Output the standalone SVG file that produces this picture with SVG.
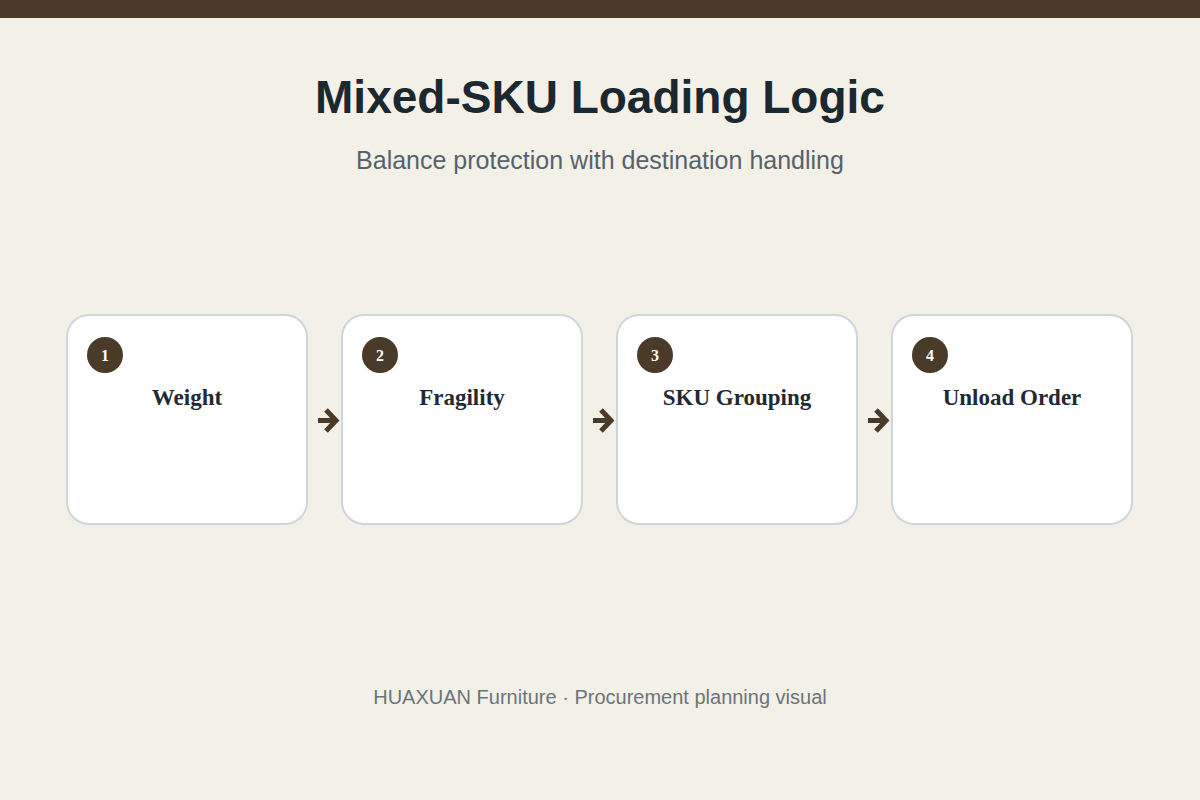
<svg xmlns="http://www.w3.org/2000/svg" width="1200" height="800" viewBox="0 0 1200 800">
<style>
.box{fill:#ffffff;stroke:#cdd6db;stroke-width:2}
.badge{fill:#4a3a28}
.num{font-family:"Liberation Serif",serif;font-weight:bold;font-size:16px;fill:#ffffff;text-anchor:middle}
.lbl{font-family:"Liberation Serif",serif;font-weight:bold;font-size:23px;fill:#1f2a33;text-anchor:middle}
.arr{fill:none;stroke:#4a3a28;stroke-width:5;stroke-linecap:butt;stroke-linejoin:miter}
</style>
<rect x="0" y="0" width="1200" height="800" fill="#f3f0e8"/>
<rect x="0" y="0" width="1200" height="18" fill="#4a3a2a"/>
<text x="600" y="113" font-family="Liberation Sans,Arial,sans-serif" font-weight="bold" font-size="46" fill="#1b2830" text-anchor="middle">Mixed-SKU Loading Logic</text>
<text x="600" y="169" font-family="Liberation Sans,Arial,sans-serif" font-size="25" fill="#56626b" text-anchor="middle">Balance protection with destination handling</text>
<g id="connectors">
<g><path class="arr" d="M318,420.5 H333"/><path class="arr" d="M326,410 L336,420.5 L326,431"/></g>
<g transform="translate(275,0)"><path class="arr" d="M318,420.5 H333"/><path class="arr" d="M326,410 L336,420.5 L326,431"/></g>
<g transform="translate(550,0)"><path class="arr" d="M318,420.5 H333"/><path class="arr" d="M326,410 L336,420.5 L326,431"/></g>
</g>
<g id="node1"><rect class="box" x="67" y="315" width="240" height="209" rx="22"/><circle class="badge" cx="105" cy="355" r="18"/><text class="num" x="105" y="360.5">1</text><text class="lbl" x="187" y="405">Weight</text></g>
<g id="node2"><rect class="box" x="342" y="315" width="240" height="209" rx="22"/><circle class="badge" cx="380" cy="355" r="18"/><text class="num" x="380" y="360.5">2</text><text class="lbl" x="462" y="405">Fragility</text></g>
<g id="node3"><rect class="box" x="617" y="315" width="240" height="209" rx="22"/><circle class="badge" cx="655" cy="355" r="18"/><text class="num" x="655" y="360.5">3</text><text class="lbl" x="737" y="405">SKU Grouping</text></g>
<g id="node4"><rect class="box" x="892" y="315" width="240" height="209" rx="22"/><circle class="badge" cx="930" cy="355" r="18"/><text class="num" x="930" y="360.5">4</text><text class="lbl" x="1012" y="405">Unload Order</text></g>
<text x="600" y="704" font-family="Liberation Sans,Arial,sans-serif" font-size="20" fill="#6b747a" text-anchor="middle">HUAXUAN Furniture · Procurement planning visual</text>
</svg>
